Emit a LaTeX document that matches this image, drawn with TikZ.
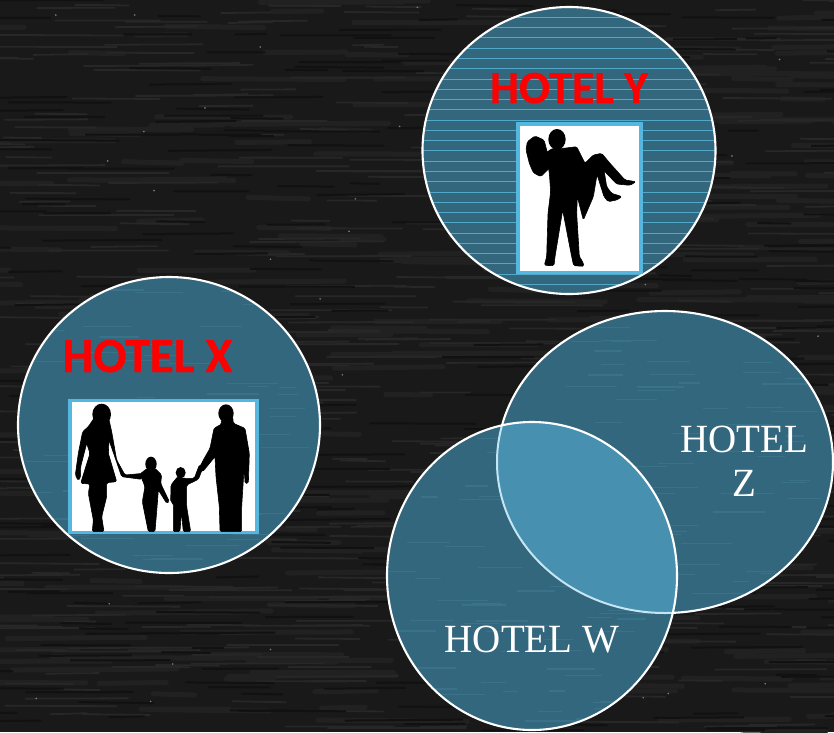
\documentclass[tikz,border=0pt]{standalone}
\usepackage{fontspec}
\setmainfont{Liberation Serif}
\newfontfamily\labelfont{Carlito}[BoldFont={Carlito Bold},BoldFeatures={FakeBold=0.6}]
\definecolor{bgdark}{HTML}{191919}
\definecolor{bgstreak}{HTML}{272727}
\definecolor{bgstreakw}{HTML}{212121}
\definecolor{bgstreakb}{HTML}{111111}
\definecolor{discteal}{HTML}{33677E}
\definecolor{discstreak}{HTML}{397289}
\definecolor{overlapteal}{HTML}{4790B0}
\definecolor{overlapedge}{HTML}{C4E6F2}
\definecolor{framesky}{HTML}{55B6E0}
\definecolor{stripeblue}{HTML}{52A8C8}
\definecolor{hotelred}{HTML}{FF0000}
\tikzset{
  x=1pt,y=-1pt,
  discedge/.style={draw=white,line width=2.1pt},
  photo/.style={draw=framesky,line width=3.2pt,fill=white},
  sil/.style={fill=black,draw=black,line width=.6pt,rounded corners=1.5pt},
  redlabel/.style={text=hotelred,anchor=base,inner sep=0pt},
  whitelabel/.style={text=white,anchor=base,inner sep=0pt,xscale=.975,font=\fontsize{40}{40}\selectfont},
}
\begin{document}
\begin{tikzpicture}
\useasboundingbox (0,0) rectangle (834,732);
\fill[bgdark] (0,0) rectangle (834,732);
\pgfmathsetseed{4711}
% chalkboard texture
\begin{scope}
\clip (0,0) rectangle (834,732);
\foreach \i in {1,...,260}{
  \pgfmathsetmacro\sx{rnd*900-60}\pgfmathsetmacro\sy{rnd*732}\pgfmathsetmacro\sl{40+rnd*130}
  \draw[bgstreakw,line width=5pt,line cap=round] (\sx,\sy) -- ++(\sl,{rnd*3-1.5});
}
\foreach \i in {1,...,420}{
  \pgfmathsetmacro\sx{rnd*900-60}\pgfmathsetmacro\sy{rnd*732}\pgfmathsetmacro\sl{30+rnd*110}
  \draw[bgstreak,line width=1.8pt] (\sx,\sy) -- ++(\sl,{rnd*2-1});
}
\foreach \i in {1,...,300}{
  \pgfmathsetmacro\sx{rnd*900-60}\pgfmathsetmacro\sy{rnd*732}\pgfmathsetmacro\sl{30+rnd*90}
  \draw[bgstreakb,line width=2pt] (\sx,\sy) -- ++(\sl,{rnd*2-1});
}
\foreach \i in {1,...,40}{
  \pgfmathsetmacro\sx{rnd*834}\pgfmathsetmacro\sy{rnd*732}
  \fill[gray] (\sx,\sy) circle (.9);
}
\end{scope}
% Hotel Y
\fill[discteal] (569,150.5) ellipse [x radius=146.5,y radius=143.5];
\begin{scope}
\clip (569,150.5) ellipse [x radius=146.5,y radius=143.5];
\foreach \i in {0,...,27}{
  \draw[stripeblue,line width=.7pt] (420,17.3+10.27*\i) -- (720,17.3+10.27*\i);
}
\end{scope}
\draw[discedge] (569,150.5) ellipse [x radius=146.5,y radius=143.5];
\node[redlabel,font=\labelfont\bfseries\fontsize{46}{46}\selectfont] (labely) at (569,103) {HOTEL Y};
\draw[photo] (518,124) rectangle (641,272.5);
\begin{scope}[shift={(420,0)},x=1pt/3,y=-1pt/3]
 \fill[black] (411,418) ellipse [x radius=26,y radius=31];
 \path[sil] (322,425)--(345,408)--(372,420)--(380,450)--(392,500)--(362,530)--(340,518)--(328,490)--(318,450)--cycle;
 \path[sil] (398,445)--(378,458)--(388,520)--(392,575)--(384,640)--(380,770)--(373,796)--(402,797)--(405,770)--(428,630)--(455,770)--(461,797)--(492,799)--(488,785)--(478,770)--(470,640)--(472,590)--(490,660)--(520,590)--(530,530)--(550,510)--(590,552)--(630,556)--(648,545)--(615,540)--(570,490)--(545,460)--(520,465)--(495,490)--(470,440)--(430,445)--cycle;
 \path[sil] (530,520)--(552,590)--(565,605)--(590,600)--(606,590)--(575,580)--(560,560)--(552,510)--cycle;
\end{scope}
% Hotel X
\fill[discteal] (169,425) ellipse [x radius=151,y radius=148];
\begin{scope}
\clip (169,425) ellipse [x radius=151,y radius=148];
\foreach \i in {1,...,70}{
  \pgfmathsetmacro\sx{18+rnd*270}\pgfmathsetmacro\sy{280+rnd*290}\pgfmathsetmacro\sl{15+rnd*40}
  \draw[discstreak,line width=1.2pt] (\sx,\sy) -- ++(\sl,0);
}
\end{scope}
\draw[discedge] (169,425) ellipse [x radius=151,y radius=148];
\node[redlabel,font=\labelfont\bfseries\fontsize{49}{49}\selectfont] (labelx) at (147.5,372) {HOTEL X};
\draw[photo] (70,400.5) rectangle (257,532.5);
\begin{scope}
\clip (70,400.5) rectangle (257,531);
\begin{scope}[shift={(10,320)},x=1pt/3,y=-1pt/3]
 % woman
 \fill[black] (275,283) ellipse [x radius=28,y radius=32];
 \path[sil] (255,290)--(235,320)--(218,335)--(205,400)--(196,465)--(205,482)--(212,470)--(212,440)--(230,370)--(240,400)--(212,490)--(240,492)--(235,520)--(250,600)--(247,635)--(282,635)--(275,590)--(290,530)--(290,488)--(320,485)--(295,400)--(297,360)--(335,470)--(395,478)--(400,460)--(345,465)--(320,420)--(305,335)--(295,290)--cycle;
 % girl
 \fill[black] (423,432) ellipse [x radius=17,y radius=22];
 \path[sil] (412,445)--(390,462)--(405,500)--(397,545)--(415,635)--(435,635)--(442,550)--(445,510)--(470,550)--(478,545)--(452,490)--(455,465)--(435,445)--cycle;
 % boy
 \fill[black] (512,458) ellipse [x radius=15,y radius=17];
 \path[sil] (503,470)--(483,495)--(482,545)--(490,550)--(490,635)--(510,635)--(514,575)--(520,635)--(542,635)--(530,560)--(530,495)--(565,478)--(582,435)--(568,435)--(553,475)--(522,475)--cycle;
 % man
 \fill[black] (648,280) ellipse [x radius=23,y radius=27];
 \path[sil] (633,300)--(635,312)--(612,325)--(600,385)--(580,420)--(565,450)--(578,455)--(615,410)--(618,470)--(628,560)--(630,635)--(695,635)--(695,560)--(700,480)--(703,440)--(705,490)--(715,490)--(718,400)--(705,325)--(670,310)--(668,290)--cycle;
\end{scope}
\end{scope}
% Hotels Z and W
\fill[discteal] (665,462) ellipse [x radius=168,y radius=151];
\begin{scope}
\clip (665,462) ellipse [x radius=168,y radius=151];
\foreach \i in {1,...,80}{
  \pgfmathsetmacro\sx{490+rnd*320}\pgfmathsetmacro\sy{315+rnd*295}\pgfmathsetmacro\sl{15+rnd*40}
  \draw[discstreak,line width=1.2pt] (\sx,\sy) -- ++(\sl,0);
}
\end{scope}
\draw[discedge] (665,462) ellipse [x radius=168,y radius=151];
\fill[discteal] (532,576) ellipse [x radius=145,y radius=154];
\begin{scope}
\clip (532,576) ellipse [x radius=145,y radius=154];
\foreach \i in {1,...,80}{
  \pgfmathsetmacro\sx{385+rnd*270}\pgfmathsetmacro\sy{425+rnd*305}\pgfmathsetmacro\sl{15+rnd*40}
  \draw[discstreak,line width=1.2pt] (\sx,\sy) -- ++(\sl,0);
}
\fill[overlapteal] (665,462) ellipse [x radius=168,y radius=151];
\draw[overlapedge,line width=2pt] (665,462) ellipse [x radius=168,y radius=151];
\end{scope}
\draw[discedge] (532,576) ellipse [x radius=145,y radius=154];
\node[whitelabel] (labelw) at (532,652.7) {HOTEL W};
\node[whitelabel] (labelza) at (744,452.7) {HOTEL};
\node[whitelabel] (labelzb) at (744,496.7) {Z};
\end{tikzpicture}
\end{document}
